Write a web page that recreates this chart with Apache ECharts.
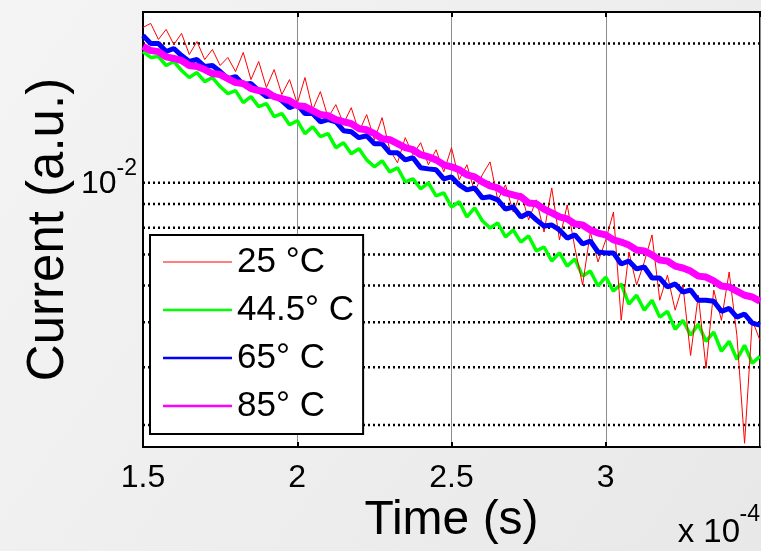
<!DOCTYPE html>
<html><head><meta charset="utf-8">
<script src="https://cdn.jsdelivr.net/npm/echarts@6/dist/echarts.min.js"></script>
<style>html,body{margin:0;padding:0;background:#eeeeee}#c{width:761px;height:551px}</style>
</head><body><div id="c"></div>
<script>
// time in units of 1e-4 s
const timeE4 = [1.5,1.525,1.55,1.575,1.6,1.625,1.65,1.675,1.7,1.725,1.75,1.775,1.8,1.825,1.85,1.875,1.9,1.925,1.95,1.975,2,2.025,2.05,2.075,2.1,2.125,2.15,2.175,2.2,2.225,2.25,2.275,2.3,2.325,2.35,2.375,2.4,2.425,2.45,2.475,2.5,2.525,2.55,2.575,2.6,2.625,2.65,2.675,2.7,2.725,2.75,2.775,2.8,2.825,2.85,2.875,2.9,2.925,2.95,2.975,3,3.025,3.05,3.075,3.1,3.125,3.15,3.175,3.2,3.225,3.25,3.275,3.3,3.325,3.35,3.375,3.4,3.425,3.45,3.475,3.5];

const current25C = [0.02165,0.02209,0.0204,0.02144,0.01989,0.02102,0.01893,0.02019,0.01846,0.0194,
0.01792,0.01865,0.01739,0.01912,0.01671,0.01828,0.01606,0.01756,0.01551,0.01671,
0.01483,0.01688,0.01439,0.01574,0.01383,0.01475,0.01342,0.01453,0.01289,0.01404,
0.01239,0.01383,0.01179,0.01105,0.01252,0.0115,0.01221,0.01094,0.01179,0.01056,
0.01191,0.01015,0.01094,0.00956,0.01041,0.0111,0.00919,0.0099,0.00865,0.00951,
0.00832,0.00919,0.00783,0.00975,0.00753,0.00896,0.00723,0.00602,0.00783,0.00675,
0.00753,0.00865,0.00505,0.00709,0.00602,0.00675,0.00772,0.00558,0.00632,0.00531,
0.00602,0.00424,0.00572,0.00398,0.00587,0.00505,0.00642,0.00469,0.00274,0.00505,
0.00457];

const current44C = [0.01921,0.01865,0.01874,0.01792,0.01828,0.01748,0.01688,0.0173,0.01654,0.01688,
0.01614,0.01558,0.01582,0.0149,0.01535,0.01461,0.01483,0.0139,0.01411,0.01335,
0.01362,0.01277,0.01322,0.01258,0.01277,0.01191,0.01221,0.01156,0.01185,0.01121,
0.01083,0.01116,0.01056,0.01078,0.01005,0.0102,0.00971,0.01,0.00937,0.00951,
0.00887,0.0091,0.00844,0.00883,0.00828,0.00799,0.00819,0.00764,0.00791,0.00745,
0.00768,0.00713,0.00727,0.00678,0.00706,0.00661,0.00685,0.00629,0.00645,0.00599,
0.00626,0.00584,0.00605,0.00547,0.00572,0.00531,0.00558,0.00513,0.00528,0.00483,
0.00505,0.00469,0.00495,0.00455,0.00476,0.00433,0.00455,0.00416,0.00446,0.00408,
0.00422];

const current65C = [0.0208,0.02,0.02,0.01921,0.0195,0.01883,0.01828,0.01846,0.01783,0.01792,
0.01739,0.01679,0.01696,0.0163,0.01638,0.01582,0.01535,0.01543,0.01505,0.01453,
0.01475,0.01411,0.01411,0.01355,0.01369,0.01355,0.01296,0.01289,0.01252,0.01264,
0.01215,0.01215,0.01161,0.01161,0.01121,0.01133,0.01078,0.01072,0.01067,0.0102,
0.0103,0.0099,0.00966,0.00975,0.00928,0.00933,0.00919,0.00878,0.00887,0.00844,
0.00861,0.00832,0.00807,0.00811,0.00791,0.0076,0.00772,0.00738,0.00749,0.00709,
0.00706,0.00706,0.00668,0.00678,0.00652,0.00658,0.00623,0.00623,0.00596,0.00605,
0.00581,0.00587,0.00558,0.00558,0.00555,0.00528,0.00536,0.00513,0.00521,0.00498,
0.00493];

const current85C = [0.0197,0.0193,0.0192,0.0187,0.01856,0.01837,0.01792,0.01783,0.01756,0.01722,
0.01713,0.01679,0.01646,0.01638,0.01598,0.01582,0.01574,0.01535,0.0152,0.01505,
0.01468,0.01461,0.01432,0.01404,0.01397,0.01369,0.01355,0.01342,0.01309,0.01302,
0.01277,0.01245,0.01239,0.01215,0.01191,0.01179,0.0115,0.01138,0.01121,0.01094,
0.01083,0.01067,0.01041,0.0103,0.01005,0.00985,0.00975,0.00951,0.00942,0.00933,
0.00905,0.00901,0.00878,0.00861,0.00844,0.00836,0.00815,0.00811,0.00791,0.00779,
0.00772,0.00753,0.00745,0.00734,0.00716,0.00713,0.00699,0.00681,0.00678,0.00661,
0.00655,0.00645,0.00629,0.00626,0.00614,0.00599,0.00596,0.00584,0.00572,0.00567,
0.00555];

const seriesNames = ['25 °C', '44.5° C', '65° C', '85° C'];
const gridLineValues = [0.02, 0.01, 0.009, 0.008, 0.007, 0.006, 0.005, 0.004, 0.003];
const xRange = [1.5, 3.5];
const xTickLabels = ['1.5', '2', '2.5', '3'];
const yTickLabel = {value: 0.01, base: '10', exp: '-2'};
const xScaleText = {base: 'x 10', exp: '-4'};

const FONT = '"Liberation Sans", Arial, Helvetica, sans-serif';
const colors = ['#ff0000', '#00ff00', '#0000ff', '#ff00ff'];
const widths = [1, 3.5, 5, 7];
const zs = [3, 2, 4, 5];
const legendIcons = ['path://M0,0H69V1H0Z', 'path://M0,0H69V2.5H0Z', 'path://M0,0H69V2.5H0Z', 'path://M0,0H69V2.5H0Z'];
const dataSets = [current25C, current44C, current65C, current85C];
const pair = arr => arr.map((v, i) => [timeE4[i], v]);

const gridSeries = gridLineValues.map((v, k) => ({
  name: 'grid' + k, type: 'line', data: [[xRange[0], v], [xRange[1], v]],
  symbol: 'none', showSymbol: false, silent: true, z: 1,
  lineStyle: {type: [2, 3], color: '#000', width: 2.5}
}));

const dataSeries = seriesNames.map((n, i) => ({
  name: n, type: 'line', data: pair(dataSets[i]), showSymbol: false, symbol: 'none',
  lineStyle: {color: colors[i], width: widths[i]}, itemStyle: {color: colors[i]},
  z: zs[i], silent: true
}));

const chart = echarts.init(document.getElementById('c'), null, {renderer: 'canvas'});
const option = {
  animation: false,
  backgroundColor: {type: 'linear', x: 0, y: 0, x2: 1, y2: 1,
    colorStops: [{offset: 0, color: '#f4f4f4'}, {offset: 1, color: '#e8e8e8'}]},
  textStyle: {fontFamily: FONT},
  grid: {left: 143, right: 1, top: 12, bottom: 104, show: true, backgroundColor: '#ffffff',
    borderColor: '#000', borderWidth: 2, containLabel: false},
  xAxis: [{
    type: 'value', min: xRange[0], max: xRange[1], interval: 0.5, position: 'bottom',
    axisLine: {show: true, lineStyle: {color: '#000', width: 2}},
    axisTick: {show: true, inside: true, length: 5, lineStyle: {color: '#000', width: 2}},
    axisLabel: {color: '#000', fontSize: 32, margin: 15, showMaxLabel: false, fontFamily: FONT,
      formatter: v => { const i = Math.round((v - 1.5) / 0.5); return xTickLabels[i] !== undefined ? xTickLabels[i] : ''; }},
    splitLine: {show: true, lineStyle: {color: '#8c8c8c', width: 1}},
    name: 'Time (s)', nameLocation: 'middle', nameGap: 50, nameMoveOverlap: false,
    nameTextStyle: {color: '#000', fontSize: 48, fontFamily: FONT}
  }, {
    type: 'value', min: xRange[0], max: xRange[1], interval: 0.5, position: 'top',
    axisLine: {show: false},
    axisTick: {show: true, inside: true, length: 5, lineStyle: {color: '#000', width: 2}},
    axisLabel: {show: false}, splitLine: {show: false}
  }],
  yAxis: {
    type: 'log', logBase: 10, min: 0.00269, max: 0.02338,
    axisLine: {show: true, lineStyle: {color: '#000', width: 2}},
    axisTick: {show: false},
    splitLine: {show: false},
    axisLabel: {color: '#000', margin: 6, padding: [0, 0, 8, 0], showMinLabel: false, showMaxLabel: false,
      formatter: v => Math.abs(Math.log10(v) - Math.log10(yTickLabel.value)) < 1e-6 ? '{b|' + yTickLabel.base + '}{s|' + yTickLabel.exp + '}' : '',
      rich: {
        b: {fontSize: 32, lineHeight: 32, verticalAlign: 'bottom', fontFamily: FONT, color: '#000'},
        s: {fontSize: 23, padding: [0, 0, 20, 0], verticalAlign: 'top', fontFamily: FONT, color: '#000'}
      }},
    name: 'Current (a.u.)', nameLocation: 'middle', nameGap: 69, nameRotate: 90, nameMoveOverlap: false,
    nameTextStyle: {color: '#000', fontSize: 51, fontFamily: FONT}
  },
  legend: {
    data: seriesNames.map((n, i) => ({name: n, icon: legendIcons[i]})),
    orient: 'vertical', left: 150, top: 235, padding: [9, 9, 10, 13],
    itemWidth: 69, itemHeight: 14, itemGap: 12, symbolKeepAspect: true,
    backgroundColor: '#ffffff', borderColor: '#000', borderWidth: 2, borderRadius: 0, z: 10,
    selectedMode: false,
    textStyle: {fontSize: 35, lineHeight: 36, color: '#000', fontFamily: FONT}
  },
  graphic: [
    {type: 'text', right: 21, top: 516, z: 10, style: {text: xScaleText.base, fontSize: 33, fontFamily: FONT, fill: '#000'}},
    {type: 'text', right: 1, top: 503, z: 10, style: {text: xScaleText.exp, fontSize: 23, fontFamily: FONT, fill: '#000'}}
  ],
  series: gridSeries.concat(dataSeries)
};
chart.setOption(option);
</script></body></html>
